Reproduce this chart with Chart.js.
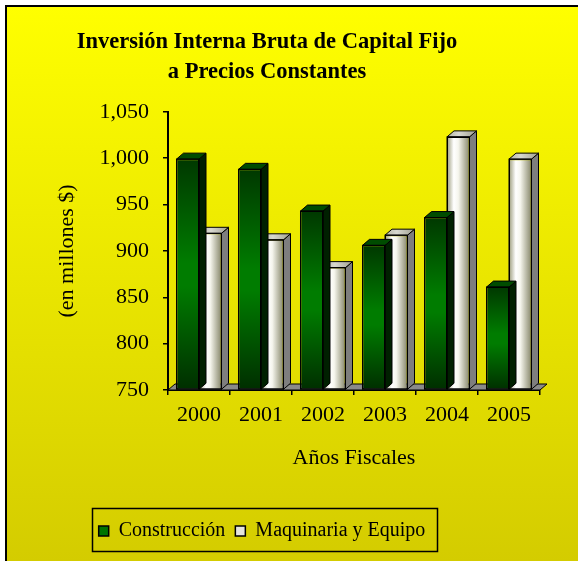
<!DOCTYPE html>
<html>
<head>
<meta charset="utf-8">
<script src="https://cdn.jsdelivr.net/npm/chart.js@4.4.1/dist/chart.umd.min.js"></script>
<style>
  html, body { margin: 0; padding: 0; background: #ffffff; }
  #wrap { width: 578px; height: 561px; }
</style>
</head>
<body>
<div id="wrap"><canvas id="c" width="578" height="561"></canvas></div>
<script>
// ---- data ----
const categories = ['2000', '2001', '2002', '2003', '2004', '2005'];
const construccion = [999, 988, 943, 906, 936, 861];
const maquinaria = [919, 912, 882, 917, 1023, 999];
const seriesNames = ['Construcción', 'Maquinaria y Equipo'];
const yTicks = [750, 800, 850, 900, 950, 1000, 1050];
const titleLines = ['Inversión Interna Bruta de Capital Fijo', 'a Precios Constantes'];
const yTitle = '(en millones $)';
const xTitle = 'Años Fiscales';

const SERIF = "'Liberation Serif', 'Times New Roman', serif";
const DX = 7, DY = 6;
const CAT_PCT = 0.726;
const LEGEND_SHIFT = -8;

function barGeom(chart, datasetIndex, dataIndex) {
  const xs = chart.scales.x;
  const center = xs.getPixelForValue(dataIndex);
  const catW = (xs.right - xs.left) / categories.length;
  const bw = catW * CAT_PCT / 2;
  const left = datasetIndex === 0 ? center - bw : center;
  return { left, right: left + bw };
}

function frontFill(c) {
  const solid = c.datasetIndex === 0 ? '#006a00' : '#f0f0e8';
  if (c.type !== 'data' || !c.chart.chartArea) return solid;
  const chart = c.chart;
  const ctx = chart.ctx;
  if (c.datasetIndex === 0) {
    const ys = chart.scales.y;
    const top = ys.getPixelForValue(c.parsed.y);
    const base = ys.getPixelForValue(ys.min);
    const g = ctx.createLinearGradient(0, top, 0, base);
    g.addColorStop(0, '#003800');
    g.addColorStop(0.45, '#007c00');
    g.addColorStop(0.55, '#007c00');
    g.addColorStop(1, '#002e00');
    return g;
  } else {
    const { left, right } = barGeom(chart, c.datasetIndex, c.dataIndex);
    const g = ctx.createLinearGradient(left, 0, right, 0);
    g.addColorStop(0, '#9c9c7c');
    g.addColorStop(0.3, '#ffffff');
    g.addColorStop(0.5, '#f6f6ee');
    g.addColorStop(1, '#86866a');
    return g;
  }
}

const bg = {
  id: 'bg',
  afterLayout(chart) {
    const tb = chart.titleBlock;
    if (tb) { tb.left -= 3; tb.right -= 3; }
    const lg = chart.legend;
    if (lg) { lg.left += LEGEND_SHIFT; lg.right += LEGEND_SHIFT; }
  },
  beforeDraw(chart) {
    const { ctx, width, height } = chart;
    ctx.save();
    ctx.fillStyle = '#ffffff';
    ctx.fillRect(0, 0, width, height);
    const g = ctx.createLinearGradient(0, 6, 0, height);
    g.addColorStop(0, '#ffff00');
    g.addColorStop(1, '#d4cc00');
    ctx.fillStyle = g;
    ctx.fillRect(6, 6, width, height);
    ctx.strokeStyle = '#000';
    ctx.lineWidth = 2;
    ctx.strokeRect(6, 6, width + 20, height + 20);
    ctx.restore();
  },
  beforeDatasetsDraw(chart) {
    // floor of the 3D plot
    const { ctx } = chart;
    const xs = chart.scales.x, ys = chart.scales.y;
    const y0 = ys.getPixelForValue(ys.min);
    ctx.save();
    ctx.beginPath();
    ctx.moveTo(xs.left, y0);
    ctx.lineTo(xs.right, y0);
    ctx.lineTo(xs.right + DX, y0 - DY);
    ctx.lineTo(xs.left + DX, y0 - DY);
    ctx.closePath();
    ctx.fillStyle = '#8a8a8a';
    ctx.fill();
    ctx.strokeStyle = '#000';
    ctx.lineWidth = 1;
    ctx.stroke();
    ctx.restore();
  },
  afterDatasetDraw(chart, args) {
    const { ctx } = chart;
    const meta = args.meta;
    const i = args.index;
    ctx.save();
    ctx.strokeStyle = '#000';
    ctx.lineWidth = 1;
    ctx.lineJoin = 'miter';
    meta.data.forEach((el) => {
      const p = el.getProps(['x', 'y', 'base', 'width'], true);
      const l = p.x - p.width / 2, r = p.x + p.width / 2;
      const t = p.y, b = p.base;
      // side face
      ctx.beginPath();
      ctx.moveTo(r, t);
      ctx.lineTo(r + DX, t - DY);
      ctx.lineTo(r + DX, b - DY);
      ctx.lineTo(r, b);
      ctx.closePath();
      ctx.fillStyle = i === 0 ? '#002000' : '#7e7e7e';
      ctx.fill();
      ctx.stroke();
      // top face
      ctx.beginPath();
      ctx.moveTo(l, t);
      ctx.lineTo(r, t);
      ctx.lineTo(r + DX, t - DY);
      ctx.lineTo(l + DX, t - DY);
      ctx.closePath();
      if (i === 0) {
        ctx.fillStyle = '#004c00';
      } else {
        const g = ctx.createLinearGradient(l, 0, r + DX, 0);
        g.addColorStop(0, '#b4b4a4');
        g.addColorStop(0.4, '#d8d8d0');
        g.addColorStop(1, '#a0a090');
        ctx.fillStyle = g;
      }
      ctx.fill();
      ctx.stroke();
      ctx.strokeRect(l, t, r - l, b - t);
    });
    ctx.restore();
  },
  afterDraw(chart) {
    // frame around the legend (hit boxes already reflect the drawn position)
    const lg = chart.legend;
    if (!lg || !lg.legendHitBoxes || !lg.legendHitBoxes.length) return;
    const hb = lg.legendHitBoxes;
    let minX = Infinity, maxX = -Infinity, minY = Infinity, maxY = -Infinity;
    hb.forEach(h => {
      minX = Math.min(minX, h.left);
      maxX = Math.max(maxX, h.left + h.width);
      minY = Math.min(minY, h.top);
      maxY = Math.max(maxY, h.top + h.height);
    });
    if (!isFinite(minX) || !isFinite(minY)) return;
    const ctx = chart.ctx;
    ctx.save();
    ctx.strokeStyle = '#000';
    ctx.lineWidth = 1.5;
    ctx.strokeRect(Math.round(minX - 7) + 0.5, Math.round(minY - 13) + 0.5, Math.round(maxX - minX + 18), Math.round(maxY - minY + 23));
    ctx.restore();
  }
};

const legendColors = ['#007400', '#e4e4dc'];

new Chart(document.getElementById('c'), {
  type: 'bar',
  data: {
    labels: categories,
    datasets: [
      { label: seriesNames[0], data: construccion, base: yTicks[0], backgroundColor: frontFill, borderColor: '#000', borderWidth: 1, borderSkipped: false, clip: false },
      { label: seriesNames[1], data: maquinaria, base: yTicks[0], backgroundColor: frontFill, borderColor: '#000', borderWidth: 1, borderSkipped: false, clip: false }
    ]
  },
  options: {
    responsive: false,
    animation: false,
    devicePixelRatio: 1,
    layout: { padding: { left: 0, right: 38, top: 0, bottom: 10 } },
    datasets: { bar: { categoryPercentage: CAT_PCT, barPercentage: 1.0 } },
    plugins: {
      tooltip: { enabled: false },
      title: {
        display: true,
        text: titleLines,
        color: '#000',
        font: { family: SERIF, size: 22.5, weight: 'bold', lineHeight: 1.33 },
        padding: { top: 27, bottom: 25 }
      },
      legend: {
        display: true,
        position: 'bottom',
        labels: {
          color: '#000',
          font: { family: SERIF, size: 20 },
          boxWidth: 10,
          boxHeight: 10,
          padding: 10,
          generateLabels(chart) {
            return chart.data.datasets.map((d, i) => ({
              text: d.label,
              fillStyle: legendColors[i],
              strokeStyle: '#000',
              lineWidth: 1.5,
              hidden: false,
              datasetIndex: i,
              fontColor: '#000'
            }));
          }
        }
      }
    },
    scales: {
      x: {
        offset: true,
        grid: { display: true, drawOnChartArea: false, drawTicks: true, tickLength: 5, color: '#000', lineWidth: 1.5, offset: true },
        border: { display: true, color: '#000', width: 2 },
        ticks: { color: '#000', font: { family: SERIF, size: 22 }, padding: 7, maxRotation: 0 },
        title: { display: true, text: xTitle, color: '#000', font: { family: SERIF, size: 22 }, padding: { top: 0, bottom: 40 } },
        afterFit(scale) { scale.height = 121; }
      },
      y: {
        min: yTicks[0],
        max: yTicks[yTicks.length - 1],
        afterBuildTicks(scale) { scale.ticks = yTicks.map(v => ({ value: v })); },
        grid: { display: true, drawOnChartArea: false, drawTicks: true, tickLength: 5, color: '#000', lineWidth: 1.5 },
        border: { display: true, color: '#000', width: 2 },
        ticks: {
          color: '#000',
          font: { family: SERIF, size: 22 },
          padding: 14,
          callback: (v) => Number(v).toLocaleString('en-US')
        },
        title: { display: true, text: yTitle, color: '#000', font: { family: SERIF, size: 22 }, padding: { top: 54, bottom: 0 } },
        afterFit(scale) { scale.width = 168; }
      }
    }
  },
  plugins: [bg]
});
</script>
</body>
</html>
